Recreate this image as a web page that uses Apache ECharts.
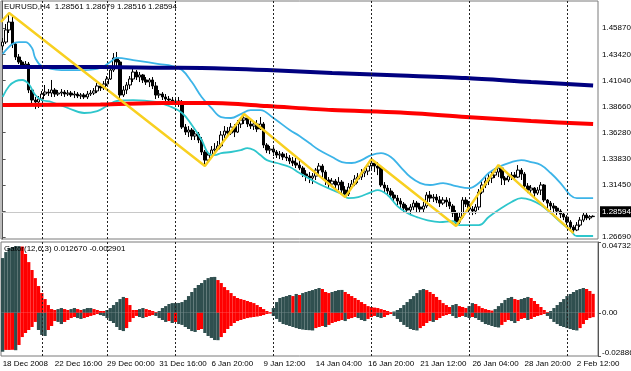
<!DOCTYPE html>
<html><head><meta charset="utf-8">
<script src="https://cdn.jsdelivr.net/npm/echarts@6/dist/echarts.min.js"></script>
<style>html,body{margin:0;padding:0;background:#fff}#c{width:631px;height:371px}</style>
</head><body><div id="c"></div>
<script>
const symbolName = 'EURUSD,H4';
const gatorName = 'Gator(12,6,3)';
const dateLabels = ['18 Dec 2008','22 Dec 16:00','29 Dec 00:00','31 Dec 16:00','6 Jan 20:00','9 Jan 12:00','14 Jan 04:00','16 Jan 20:00','21 Jan 12:00','26 Jan 04:00','28 Jan 20:00','2 Feb 12:00'];
const labelEvery = 16;
const weekSeps = [12,32,53,83,113,143,173];
const priceTicks = [1.26690,1.29070,1.31450,1.33830,1.36280,1.38660,1.41040,1.43420,1.45870];
const priceMin = 1.26506, priceMax = 1.48348;
const gatorMax = 0.047329, gatorMin = -0.028861;

const opens = [1.4422,1.4458,1.4569,1.4642,1.4440,1.4321,1.4275,1.4247,1.4256,1.4018,
1.3926,1.3908,1.3935,1.3981,1.3999,1.3990,1.4018,1.3981,1.3990,1.3999,
1.3981,1.3990,1.3972,1.3981,1.3963,1.3972,1.3954,1.3981,1.3990,1.4009,
1.4055,1.4036,1.4073,1.4119,1.4201,1.4312,1.4275,1.3972,1.4018,1.4064,
1.4119,1.4183,1.4137,1.4156,1.4110,1.4091,1.4110,1.4055,1.3972,1.3981,
1.3954,1.3935,1.3926,1.3908,1.3917,1.3899,1.3678,1.3632,1.3651,1.3596,
1.3614,1.3559,1.3449,1.3375,1.3421,1.3467,1.3476,1.3504,1.3605,1.3641,
1.3623,1.3678,1.3632,1.3706,1.3742,1.3761,1.3706,1.3687,1.3706,1.3660,
1.3706,1.3513,1.3467,1.3476,1.3449,1.3421,1.3430,1.3403,1.3394,1.3366,
1.3348,1.3329,1.3302,1.3247,1.3228,1.3210,1.3228,1.3283,1.3320,1.3265,
1.3192,1.3155,1.3182,1.3146,1.3173,1.3100,1.3063,1.3127,1.3155,1.3201,
1.3219,1.3256,1.3274,1.3320,1.3348,1.3320,1.3302,1.3146,1.3118,1.3091,
1.3054,1.3026,1.2999,1.2971,1.2934,1.2916,1.2944,1.2980,1.2944,1.2925,
1.2953,1.3054,1.3026,1.3035,1.3008,1.2980,1.3008,1.2990,1.2953,1.2889,
1.2806,1.2852,1.3008,1.2971,1.2925,1.2907,1.2944,1.3081,1.3146,1.3182,
1.3210,1.3237,1.3265,1.3302,1.3210,1.3192,1.3228,1.3237,1.3219,1.3283,
1.3247,1.3136,1.3100,1.3118,1.3072,1.3100,1.3146,1.3008,1.2980,1.2953,
1.2934,1.2907,1.2879,1.2852,1.2806,1.2760,1.2733,1.2778,1.2824,1.2870,
1.2843,1.28561];
const closes = [1.4458,1.4569,1.4642,1.4440,1.4321,1.4275,1.4247,1.4256,1.4018,1.3926,
1.3908,1.3935,1.3981,1.3999,1.3990,1.4018,1.3981,1.3990,1.3999,1.3981,
1.3990,1.3972,1.3981,1.3963,1.3972,1.3954,1.3981,1.3990,1.4009,1.4055,
1.4036,1.4073,1.4119,1.4201,1.4312,1.4275,1.3972,1.4018,1.4064,1.4119,
1.4183,1.4137,1.4156,1.4110,1.4091,1.4110,1.4055,1.3972,1.3981,1.3954,
1.3935,1.3926,1.3908,1.3917,1.3899,1.3678,1.3632,1.3651,1.3596,1.3614,
1.3559,1.3449,1.3375,1.3421,1.3467,1.3476,1.3504,1.3605,1.3641,1.3623,
1.3678,1.3632,1.3706,1.3742,1.3761,1.3706,1.3687,1.3706,1.3660,1.3706,
1.3513,1.3467,1.3476,1.3449,1.3421,1.3430,1.3403,1.3394,1.3366,1.3348,
1.3329,1.3302,1.3247,1.3228,1.3210,1.3228,1.3283,1.3320,1.3265,1.3192,
1.3155,1.3182,1.3146,1.3173,1.3100,1.3063,1.3127,1.3155,1.3201,1.3219,
1.3256,1.3274,1.3320,1.3348,1.3320,1.3302,1.3146,1.3118,1.3091,1.3054,
1.3026,1.2999,1.2971,1.2934,1.2916,1.2944,1.2980,1.2944,1.2925,1.2953,
1.3054,1.3026,1.3035,1.3008,1.2980,1.3008,1.2990,1.2953,1.2889,1.2806,
1.2852,1.3008,1.2971,1.2925,1.2907,1.2944,1.3081,1.3146,1.3182,1.3210,
1.3237,1.3265,1.3302,1.3210,1.3192,1.3228,1.3237,1.3219,1.3283,1.3247,
1.3136,1.3100,1.3118,1.3072,1.3100,1.3146,1.3008,1.2980,1.2953,1.2934,
1.2907,1.2879,1.2852,1.2806,1.2760,1.2733,1.2778,1.2824,1.2870,1.2843,
1.2856,1.28594];
const highs = [1.4495,1.4624,1.4725,1.4688,1.4458,1.4348,1.4293,1.4284,1.4275,1.4036,
1.3954,1.3963,1.4009,1.4064,1.4027,1.4110,1.4036,1.4018,1.4027,1.4018,
1.4018,1.4009,1.4009,1.3999,1.3990,1.3990,1.4009,1.4018,1.4036,1.4082,
1.4082,1.4100,1.4146,1.4229,1.4357,1.4367,1.4293,1.4055,1.4091,1.4146,
1.4211,1.4201,1.4183,1.4165,1.4137,1.4128,1.4137,1.4091,1.4018,1.3999,
1.3981,1.3963,1.3954,1.3944,1.3954,1.3926,1.3706,1.3687,1.3669,1.3641,
1.3632,1.3586,1.3467,1.3458,1.3504,1.3531,1.3550,1.3641,1.3687,1.3678,
1.3715,1.3706,1.3742,1.3770,1.3797,1.3779,1.3742,1.3733,1.3742,1.3770,
1.3724,1.3531,1.3504,1.3504,1.3467,1.3458,1.3449,1.3439,1.3421,1.3403,
1.3394,1.3375,1.3320,1.3283,1.3265,1.3256,1.3302,1.3348,1.3338,1.3283,
1.3219,1.3210,1.3201,1.3219,1.3192,1.3136,1.3164,1.3192,1.3237,1.3256,
1.3293,1.3311,1.3338,1.3384,1.3366,1.3357,1.3320,1.3173,1.3146,1.3118,
1.3081,1.3054,1.3026,1.2990,1.2962,1.2971,1.3008,1.2999,1.2980,1.2990,
1.3081,1.3091,1.3063,1.3063,1.3045,1.3035,1.3035,1.3026,1.2971,1.2916,
1.2898,1.3035,1.3035,1.2999,1.2953,1.2971,1.3109,1.3192,1.3219,1.3256,
1.3274,1.3302,1.3329,1.3311,1.3228,1.3256,1.3265,1.3265,1.3329,1.3302,
1.3265,1.3164,1.3146,1.3127,1.3127,1.3173,1.3155,1.3017,1.2999,1.2980,
1.2953,1.2925,1.2898,1.2870,1.2824,1.2778,1.2806,1.2852,1.2898,1.2889,
1.2870,1.28679];
const lows = [1.4385,1.4440,1.4541,1.4403,1.4293,1.4256,1.4220,1.4220,1.3990,1.3889,
1.3843,1.3853,1.3917,1.3963,1.3963,1.3954,1.3954,1.3963,1.3963,1.3954,
1.3963,1.3954,1.3944,1.3944,1.3935,1.3935,1.3935,1.3963,1.3972,1.3990,
1.4009,1.4018,1.4055,1.4110,1.4183,1.4238,1.3944,1.3954,1.3981,1.4027,
1.4091,1.4110,1.4091,1.4082,1.4064,1.4045,1.4027,1.3935,1.3944,1.3926,
1.3908,1.3899,1.3880,1.3862,1.3862,1.3660,1.3605,1.3586,1.3559,1.3559,
1.3531,1.3421,1.3320,1.3348,1.3394,1.3430,1.3458,1.3485,1.3577,1.3596,
1.3605,1.3586,1.3623,1.3669,1.3706,1.3678,1.3660,1.3651,1.3632,1.3651,
1.3485,1.3439,1.3430,1.3412,1.3394,1.3384,1.3375,1.3366,1.3338,1.3320,
1.3302,1.3283,1.3219,1.3182,1.3164,1.3155,1.3192,1.3237,1.3210,1.3146,
1.3118,1.3127,1.3109,1.3100,1.3063,1.3035,1.3045,1.3109,1.3136,1.3164,
1.3192,1.3219,1.3237,1.3283,1.3265,1.3237,1.3127,1.3081,1.3054,1.3026,
1.2990,1.2962,1.2934,1.2898,1.2889,1.2870,1.2916,1.2898,1.2898,1.2898,
1.2934,1.2990,1.2990,1.2980,1.2944,1.2962,1.2944,1.2925,1.2852,1.2769,
1.2788,1.2834,1.2944,1.2898,1.2870,1.2879,1.2916,1.3063,1.3118,1.3146,
1.3164,1.3210,1.3219,1.3146,1.3146,1.3173,1.3192,1.3192,1.3210,1.3192,
1.3118,1.3072,1.3054,1.3035,1.3054,1.3054,1.2990,1.2934,1.2916,1.2898,
1.2870,1.2843,1.2824,1.2778,1.2733,1.2705,1.2723,1.2760,1.2806,1.2824,
1.2824,1.28516];

// Bollinger bands, moving averages, zigzag: [bar index, price]
const bbUpper = [[0,1.4348],[3,1.4440],[5,1.4458],[7,1.4458],[9,1.4403],[10,1.4312],[12,1.4238],[18,1.4201],[25,1.4201],[30,1.4220],[33,1.4275],[35,1.4312],[40,1.4293],[48,1.4256],[52,1.4238],[55,1.4201],[58,1.4091],[61,1.3954],[64,1.3853],[67,1.3770],[70,1.3761],[73,1.3797],[76,1.3834],[79,1.3834],[83,1.3761],[88,1.3651],[91,1.3596],[94,1.3531],[97,1.3467],[101,1.3403],[104,1.3357],[107,1.3348],[110,1.3375],[113,1.3421],[116,1.3439],[119,1.3403],[122,1.3311],[125,1.3219],[128,1.3164],[131,1.3146],[135,1.3164],[139,1.3136],[143,1.3118],[146,1.3164],[149,1.3256],[152,1.3311],[156,1.3357],[159,1.3375],[162,1.3357],[165,1.3329],[168,1.3256],[171,1.3164],[174,1.3054],[176,1.3026],[181,1.3026]];
const bbLower = [[0,1.3954],[2,1.4055],[4,1.4100],[6,1.4110],[8,1.4073],[10,1.3972],[12,1.3926],[15,1.3908],[20,1.3853],[25,1.3807],[29,1.3825],[32,1.3871],[35,1.3917],[40,1.3926],[47,1.3908],[51,1.3871],[55,1.3807],[58,1.3697],[61,1.3559],[63,1.3439],[65,1.3421],[67,1.3439],[70,1.3449],[73,1.3467],[75,1.3485],[77,1.3467],[79,1.3421],[81,1.3375],[84,1.3348],[88,1.3311],[91,1.3256],[97,1.3155],[104,1.3063],[106,1.3026],[109,1.3035],[113,1.3081],[115,1.3100],[118,1.3054],[121,1.2953],[124,1.2889],[127,1.2852],[130,1.2824],[134,1.2806],[138,1.2815],[140,1.2778],[146,1.2778],[149,1.2852],[152,1.2916],[156,1.2990],[159,1.3026],[162,1.3008],[165,1.2962],[168,1.2889],[171,1.2806],[174,1.2733],[176,1.2678],[181,1.2678]];
const maSlow = [[0,1.4229],[30,1.4229],[49,1.4222],[61,1.4220],[81,1.4201],[101,1.4174],[122,1.4151],[142,1.4128],[162,1.4091],[181,1.4059]];
const maMid = [[0,1.3880],[30,1.3885],[49,1.3899],[64,1.3899],[81,1.3871],[101,1.3834],[122,1.3811],[142,1.3770],[162,1.3733],[181,1.3706]];
const zigzag = [[-0.5,1.4642],[2,1.4725],[62,1.3320],[74,1.3797],[105,1.3035],[113,1.3384],[139,1.2769],[152,1.3329],[175,1.2705]];

const gatorUp = [0.0366,0.0406,0.0433,0.0440,0.0446,0.0446,0.0443,0.0393,0.0339,0.0286,
0.0232,0.0179,0.0132,0.0092,0.0052,0.0025,0.0019,0.0025,0.0032,0.0025,
0.0019,0.0025,0.0032,0.0025,0.0019,0.0025,0.0032,0.0032,0.0025,0.0019,
0.0012,0.0012,0.0019,0.0032,0.0052,0.0072,0.0092,0.0106,0.0099,0.0052,
0.0019,0.0019,0.0025,0.0032,0.0025,0.0019,0.0012,0.0005,0.0012,0.0032,
0.0045,0.0059,0.0065,0.0065,0.0066,0.0072,0.0086,0.0112,0.0139,0.0166,
0.0186,0.0199,0.0219,0.0232,0.0239,0.0240,0.0219,0.0199,0.0172,0.0152,
0.0132,0.0112,0.0099,0.0092,0.0086,0.0079,0.0072,0.0065,0.0052,0.0039,
0.0025,0.0012,0.0005,0.0032,0.0072,0.0099,0.0106,0.0112,0.0119,0.0112,
0.0126,0.0119,0.0132,0.0139,0.0146,0.0152,0.0159,0.0166,0.0159,0.0139,
0.0132,0.0139,0.0146,0.0152,0.0153,0.0139,0.0126,0.0112,0.0099,0.0086,
0.0072,0.0059,0.0045,0.0039,0.0035,0.0032,0.0025,0.0019,0.0012,0.0005,
0.0009,0.0019,0.0032,0.0052,0.0072,0.0092,0.0112,0.0132,0.0152,0.0159,
0.0152,0.0139,0.0126,0.0106,0.0086,0.0065,0.0052,0.0039,0.0052,0.0059,
0.0045,0.0039,0.0032,0.0045,0.0065,0.0059,0.0045,0.0032,0.0025,0.0019,
0.0015,0.0025,0.0045,0.0065,0.0086,0.0099,0.0106,0.0092,0.0086,0.0092,
0.0099,0.0106,0.0099,0.0079,0.0059,0.0039,0.0019,0.0005,0.0012,0.0032,
0.0052,0.0072,0.0092,0.0112,0.0126,0.0139,0.0152,0.0159,0.0166,0.0159,
0.0146,0.012670];
const gatorDown = [-0.0260,-0.0248,-0.0248,-0.0247,-0.0250,-0.0215,-0.0162,-0.0135,-0.0115,-0.0095,
-0.0061,-0.0115,-0.0148,-0.0155,-0.0115,-0.0088,-0.0055,-0.0061,-0.0075,-0.0061,
-0.0048,-0.0035,-0.0028,-0.0035,-0.0041,-0.0035,-0.0028,-0.0021,-0.0015,-0.0008,
-0.0015,-0.0021,-0.0035,-0.0055,-0.0068,-0.0095,-0.0115,-0.0122,-0.0102,-0.0061,
-0.0035,-0.0021,-0.0028,-0.0035,-0.0028,-0.0021,-0.0015,-0.0021,-0.0035,-0.0048,
-0.0061,-0.0055,-0.0068,-0.0061,-0.0075,-0.0081,-0.0095,-0.0108,-0.0122,-0.0128,
-0.0115,-0.0108,-0.0135,-0.0155,-0.0168,-0.0182,-0.0183,-0.0162,-0.0135,-0.0108,
-0.0088,-0.0068,-0.0055,-0.0048,-0.0041,-0.0035,-0.0031,-0.0028,-0.0025,-0.0021,
-0.0015,-0.0008,-0.0005,-0.0021,-0.0041,-0.0061,-0.0075,-0.0081,-0.0088,-0.0095,
-0.0102,-0.0108,-0.0112,-0.0115,-0.0116,-0.0118,-0.0102,-0.0095,-0.0088,-0.0095,
-0.0081,-0.0068,-0.0061,-0.0055,-0.0048,-0.0055,-0.0041,-0.0035,-0.0028,-0.0035,
-0.0048,-0.0055,-0.0041,-0.0028,-0.0021,-0.0028,-0.0035,-0.0028,-0.0015,-0.0008,
-0.0021,-0.0041,-0.0061,-0.0081,-0.0095,-0.0108,-0.0115,-0.0118,-0.0102,-0.0088,
-0.0068,-0.0055,-0.0061,-0.0048,-0.0035,-0.0021,-0.0015,-0.0008,-0.0021,-0.0035,
-0.0028,-0.0021,-0.0028,-0.0035,-0.0028,-0.0035,-0.0048,-0.0061,-0.0075,-0.0081,
-0.0088,-0.0095,-0.0098,-0.0081,-0.0061,-0.0048,-0.0055,-0.0068,-0.0055,-0.0041,
-0.0035,-0.0048,-0.0041,-0.0028,-0.0021,-0.0015,-0.0008,-0.0021,-0.0041,-0.0061,
-0.0075,-0.0088,-0.0095,-0.0102,-0.0108,-0.0115,-0.0118,-0.0102,-0.0075,-0.0048,
-0.0035,-0.002901];

// ---------- build ----------
const FONT = "'Liberation Sans',Arial,sans-serif";
const FS = 8;
const GREEN = '#2f4f4f', RED = '#ff0000';
const nBars = opens.length;
const N = nBars + 1; // one empty slot at right (chart shift)
const cats = Array.from({length: N}, (_, i) => String(i));
const candles = opens.map((o, i) => [o, closes[i], lows[i], highs[i]]);

function gatorItems(arr) {
  let prev = GREEN;
  return arr.map((v, i) => {
    let c = prev;
    if (i > 0) {
      const a = Math.abs(v), b = Math.abs(arr[i - 1]);
      if (a > b) c = GREEN; else if (a < b) c = RED;
    }
    prev = c;
    return {value: v, itemStyle: {color: c}};
  });
}

const sepLine = {type: [2, 2], color: '#222', width: 1};
const last = nBars - 1;
const headText = symbolName + '  ' + [opens[last], highs[last], lows[last], closes[last]].map(v => v.toFixed(5)).join(' ');
const gatorText = gatorName + ' ' + gatorUp[last].toFixed(6) + ' ' + gatorDown[last].toFixed(6);

const chart = echarts.init(document.getElementById('c'), null, {renderer: 'canvas'});
chart.setOption({
  animation: false,
  backgroundColor: '#ffffff',
  grid: [
    {left: 1, top: 1, width: 597, height: 238, show: true, borderColor: '#7a7a7a', borderWidth: 1,
      containLabel: false, outerBoundsMode: 'none'},
    {left: 1, top: 242, width: 597, height: 114, show: true, borderColor: '#7a7a7a', borderWidth: 1,
      containLabel: false, outerBoundsMode: 'none'}
  ],
  xAxis: [
    {type: 'category', gridIndex: 0, data: cats, boundaryGap: true, show: false},
    {type: 'value', gridIndex: 0, min: -0.5, max: N - 0.5, show: false},
    {type: 'category', gridIndex: 1, data: cats, boundaryGap: true,
      axisLine: {show: false}, axisTick: {show: false}, splitLine: {show: false},
      axisLabel: {
        interval: (i) => i % labelEvery === 0 && i / labelEvery < dateLabels.length,
        formatter: (v, i) => dateLabels[Math.round(i / labelEvery)] || '',
        showMinLabel: true, hideOverlap: false,
        align: 'left', margin: 4, fontSize: FS, fontFamily: FONT, color: '#000'
      }}
  ],
  yAxis: [
    {type: 'value', gridIndex: 0, position: 'right', min: priceMin, max: priceMax,
      splitLine: {show: false},
      axisLine: {show: true, lineStyle: {color: '#555'}},
      axisTick: {show: true, length: 3, customValues: priceTicks, lineStyle: {color: '#555'}},
      axisLabel: {customValues: priceTicks, formatter: (v) => v.toFixed(5), margin: 4,
        fontSize: FS, fontFamily: FONT, color: '#000'}},
    {type: 'value', gridIndex: 1, position: 'right', min: gatorMin, max: gatorMax,
      splitLine: {show: false},
      axisLine: {show: true, lineStyle: {color: '#555'}},
      axisTick: {show: true, length: 3, customValues: [gatorMin, 0, gatorMax], lineStyle: {color: '#555'}},
      axisLabel: {customValues: [gatorMin, 0, gatorMax], margin: 4, fontSize: FS, fontFamily: FONT, color: '#000',
        formatter: (v) => v === 0 ? '0.00' : (v > 0 ? '{t|' + v.toFixed(6) + '}' : '{b|' + v.toFixed(6) + '}'),
        rich: {t: {padding: [8, 0, 0, 0], fontSize: FS, fontFamily: FONT}, b: {padding: [0, 0, 6, 0], fontSize: FS, fontFamily: FONT}}}}
  ],
  series: [
    {type: 'candlestick', xAxisIndex: 0, yAxisIndex: 0, data: candles, barWidth: 3,
      itemStyle: {color: '#ffffff', color0: '#000000', borderColor: '#000000', borderColor0: '#000000', borderWidth: 1},
      emphasis: {disabled: true},
      markLine: {silent: true, symbol: ['none', 'none'], animation: false,
        data: weekSeps.map(i => ({xAxis: i, lineStyle: sepLine, label: {show: false}})).concat([
          {yAxis: closes[last], lineStyle: {color: '#c8c8c8', type: 'solid', width: 1},
            label: {show: true, position: 'end', formatter: () => closes[last].toFixed(5), color: '#fff',
              backgroundColor: '#000', padding: [2, 2, 1, 2], distance: 2, fontSize: FS, fontFamily: FONT}}
        ])}},
    {type: 'line', name: 'bbUpper', xAxisIndex: 1, yAxisIndex: 0, data: bbUpper, smooth: 0.4, showSymbol: false,
      lineStyle: {color: '#3cb4e8', width: 1.8}, emphasis: {disabled: true}},
    {type: 'line', name: 'bbLower', xAxisIndex: 1, yAxisIndex: 0, data: bbLower, smooth: 0.4, showSymbol: false,
      lineStyle: {color: '#2ec6cc', width: 1.8}, emphasis: {disabled: true}},
    {type: 'line', name: 'maSlow', xAxisIndex: 1, yAxisIndex: 0, data: maSlow, smooth: 0.3, showSymbol: false,
      lineStyle: {color: '#000080', width: 4}, emphasis: {disabled: true}},
    {type: 'line', name: 'maMid', xAxisIndex: 1, yAxisIndex: 0, data: maMid, smooth: 0.3, showSymbol: false,
      lineStyle: {color: '#ff0000', width: 4}, emphasis: {disabled: true}},
    {type: 'line', name: 'zigzag', xAxisIndex: 1, yAxisIndex: 0, data: zigzag, showSymbol: false,
      lineStyle: {color: '#f8d020', width: 2.5}, emphasis: {disabled: true}},
    {type: 'bar', name: 'gatorUp', xAxisIndex: 2, yAxisIndex: 1, data: gatorItems(gatorUp),
      barCategoryGap: '0%', barGap: '-100%', emphasis: {disabled: true},
      markLine: {silent: true, symbol: ['none', 'none'], animation: false,
        data: weekSeps.map(i => ({xAxis: i, lineStyle: sepLine, label: {show: false}}))}},
    {type: 'bar', name: 'gatorDown', xAxisIndex: 2, yAxisIndex: 1, data: gatorItems(gatorDown),
      barCategoryGap: '0%', barGap: '-100%', emphasis: {disabled: true}}
  ],
  graphic: [
    {type: 'text', left: 4, top: 3, z: 100, style: {text: headText, fontSize: FS, fontFamily: FONT, fill: '#000'}},
    {type: 'text', left: 4, top: 245, z: 100, style: {text: gatorText, fontSize: FS, fontFamily: FONT, fill: '#000'}}
  ]
});
</script>
</body></html>
